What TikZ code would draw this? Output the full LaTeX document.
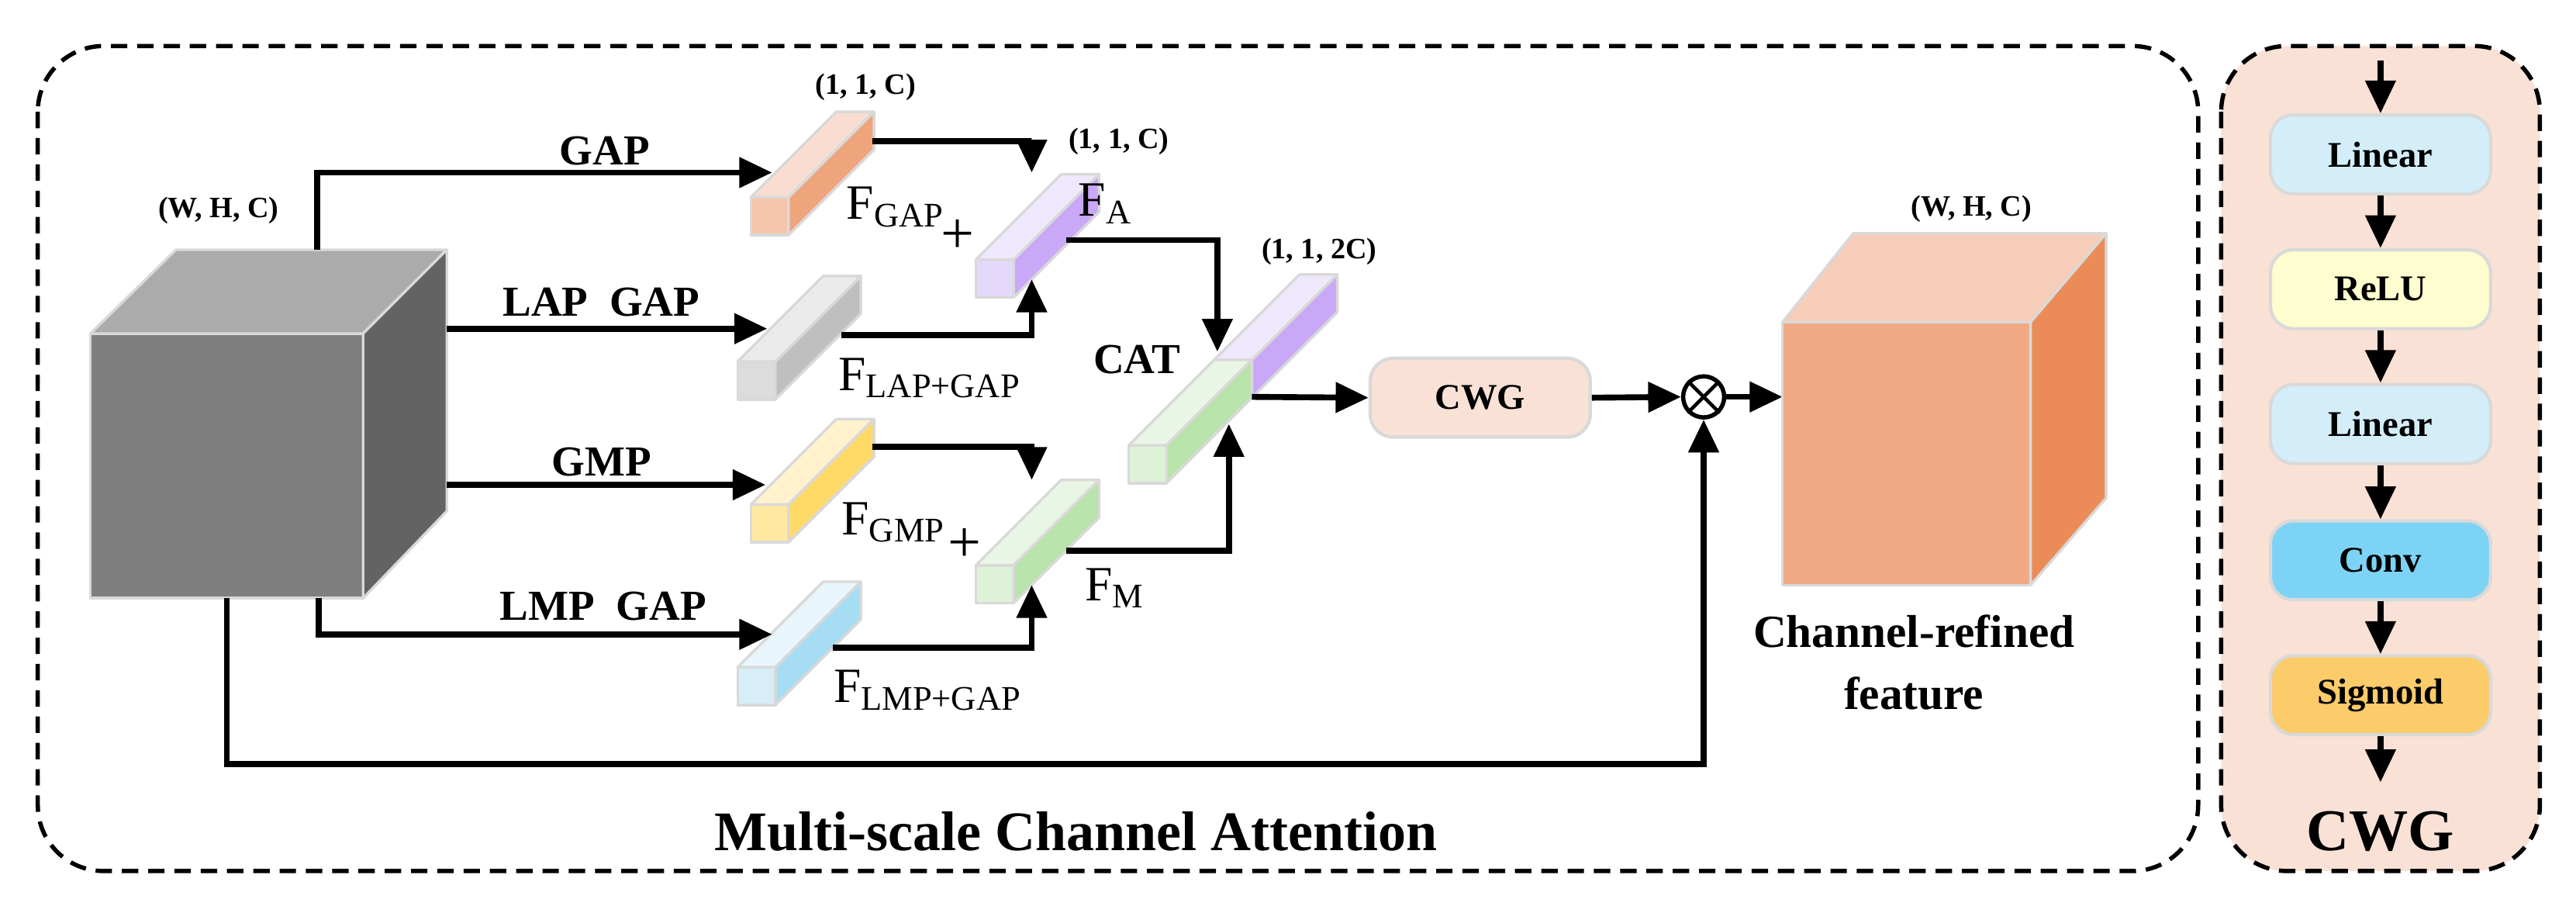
\documentclass[tikz,border=0pt]{standalone}
\usepackage{fontspec}
\setmainfont{Liberation Serif}
\usetikzlibrary{arrows.meta}
\definecolor{edge}{HTML}{D9D9D9}
\definecolor{cwgbg}{HTML}{F9E1D6}
\definecolor{gapF}{HTML}{F5C6AC}\definecolor{gapS}{HTML}{EFA57C}\definecolor{gapT}{HTML}{F8DDD0}
\definecolor{lapF}{HTML}{DCDCDC}\definecolor{lapS}{HTML}{BFBFBF}\definecolor{lapT}{HTML}{EBEBEB}
\definecolor{gmpF}{HTML}{FFE9A0}\definecolor{gmpS}{HTML}{FFD966}\definecolor{gmpT}{HTML}{FFF2CC}
\definecolor{lmpF}{HTML}{D7EEF9}\definecolor{lmpS}{HTML}{A6DDF5}\definecolor{lmpT}{HTML}{E8F6FC}
\definecolor{puF}{HTML}{E5D9FB}\definecolor{puS}{HTML}{C9A8F7}\definecolor{puT}{HTML}{EFE8FC}
\definecolor{grF}{HTML}{DDF2D6}\definecolor{grS}{HTML}{B8E3AA}\definecolor{grT}{HTML}{EAF6E5}
\definecolor{cubeF}{HTML}{7F7F7F}\definecolor{cubeS}{HTML}{636363}\definecolor{cubeT}{HTML}{ABABAB}
\definecolor{ocF}{HTML}{F0A985}\definecolor{ocS}{HTML}{EB8C58}\definecolor{ocT}{HTML}{F6CDB8}
\definecolor{linC}{HTML}{D4EEF9}\definecolor{reluC}{HTML}{FDFDCF}\definecolor{convC}{HTML}{7DD3F5}\definecolor{sigC}{HTML}{FCCB6A}
\tikzset{
 conn/.style={line width=1.8pt,-{Triangle[length=10pt,width=9pt]}},
 plain/.style={line width=1.8pt},
 lbl/.style={font=\bfseries\fontsize{13}{15}\selectfont,inner sep=0},
 dim/.style={font=\bfseries\fontsize{9}{11}\selectfont,inner sep=0},
 flbl/.style={font=\fontsize{15}{17}\selectfont,inner sep=0,anchor=west},
 blk/.style={draw=edge,line width=1pt,rounded corners=7pt,minimum width=67pt,minimum height=24pt,font=\bfseries\fontsize{11}{13}\selectfont},
 face/.style={draw=edge,line width=0.8pt,line join=round}
}
\newcommand\mybar[5]{%
 \filldraw[fill=#3,face] (#1,#2) rectangle (#1+23,#2-23);
 \filldraw[fill=#5,face] (#1,#2-23) -- (#1+23,#2-23) -- (#1+75,#2-75) -- (#1+52,#2-75) -- cycle;
 \filldraw[fill=#4,face] (#1+23,#2) -- (#1+75,#2-52) -- (#1+75,#2-75) -- (#1+23,#2-23) -- cycle;}
\begin{document}
\begin{tikzpicture}[x=0.5pt,y=-0.5pt]
\useasboundingbox (0,0) rectangle (1568,551.3);
% boxes
\draw[line width=1.3pt,dash pattern=on 5pt off 3pt,rounded corners=20pt] (23,28) rectangle (1338,530);
\draw[line width=1.3pt,dash pattern=on 5pt off 3pt,rounded corners=20pt,fill=cwgbg] (1352,28) rectangle (1546,530);
% grey cube
\filldraw[fill=cubeF,face] (55,203) rectangle (221,364);
\filldraw[fill=cubeT,face] (55,203) -- (221,203) -- (272,152) -- (107,152) -- cycle;
\filldraw[fill=cubeS,face] (221,203) -- (272,152) -- (272,311) -- (221,364) -- cycle;
\node[dim] (whc1) at (133,128) {(W, H, C)};
% bars
\mybar{457}{143}{gapF}{gapS}{gapT}
\mybar{449}{243}{lapF}{lapS}{lapT}
\mybar{457}{330}{gmpF}{gmpS}{gmpT}
\mybar{449}{429}{lmpF}{lmpS}{lmpT}
\mybar{594}{181}{puF}{puS}{puT}
\mybar{594}{367}{grF}{grS}{grT}
\mybar{739}{242}{puF}{puS}{puT}
\mybar{687}{294}{grF}{grS}{grT}
% coordinates
\coordinate (c1) at (193,152); \coordinate (gapin) at (470,105);
\coordinate (lapout) at (272,200); \coordinate (lapin) at (467,200);
\coordinate (gmpout) at (272,295); \coordinate (gmpin) at (466,295);
\coordinate (c4) at (194,364); \coordinate (lmpin) at (470,386);
\coordinate (c5) at (138,364);
\coordinate (gapo) at (531,86); \coordinate (fatop) at (628,105);
\coordinate (lapo) at (512,204); \coordinate (fabot) at (628,170);
\coordinate (fao) at (649,146); \coordinate (cattop) at (741,214);
\coordinate (gmpo) at (531,272); \coordinate (fmtop) at (628,292);
\coordinate (lmpo) at (507,394); \coordinate (fmbot) at (628,356);
\coordinate (fmo) at (649,335); \coordinate (catbot) at (748,258);
\coordinate (cato) at (762,241.5);
% arrows
\draw[conn] (c1) |- (gapin);
\draw[conn] (lapout) -- (lapin);
\draw[conn] (gmpout) -- (gmpin);
\draw[conn] (c4) |- (lmpin);
\draw[conn] (gapo) -| (fatop);
\draw[conn] (lapo) -| (fabot);
\draw[conn] (fao) -| (cattop);
\draw[conn] (gmpo) -| (fmtop);
\draw[conn] (lmpo) -| (fmbot);
\draw[conn] (fmo) -| (catbot);
% labels
\node[lbl] (l1) at (368,92) {GAP};
\node[lbl] (l2) at (366,184) {LAP\enspace GAP};
\node[lbl] (l3) at (366,281) {GMP};
\node[lbl] (l4) at (367,369) {LMP\enspace GAP};
\node[dim] (d1) at (527,53) {(1, 1, C)};
\node[dim] (d2) at (681,86) {(1, 1, C)};
\node[dim] (d3) at (803,153) {(1, 1, 2C)};
\node[flbl] (f1) at (515,126) {F\textsubscript{GAP}};
\node[flbl] (f2) at (656,124) {F\textsubscript{A}};
\node[flbl] (f3) at (510,230) {F\textsubscript{LAP+GAP}};
\node[flbl] (f4) at (512,318) {F\textsubscript{GMP}};
\node[flbl] (f5) at (660,358) {F\textsubscript{M}};
\node[flbl] (f6) at (507,420) {F\textsubscript{LMP+GAP}};
\node[font=\fontsize{18}{18}\selectfont,inner sep=0] (p1) at (583,144) {+};
\node[font=\fontsize{18}{18}\selectfont,inner sep=0] (p2) at (587,332) {+};
\node[lbl] (cat) at (692,219) {CAT};
% CWG
\node[blk,fill=cwgbg,minimum width=67pt] (cwg) at (901,242) {CWG};
\node[draw,circle,line width=1.3pt,minimum size=12.5pt,inner sep=0] (ot) at (1037,241.5) {};
\draw[line width=1.1pt] (ot.north west) -- (ot.south east) (ot.north east) -- (ot.south west);
\draw[conn] (cato) -- (cwg.west);
\draw[conn] (cwg.east) -- (ot.west);
\coordinate (oc) at (1085,241.5);
\draw[conn] (ot.east) -- (oc);
\draw[conn] (c5) |- (1037,465) -- (ot.south);
% orange cube
\filldraw[fill=ocF,face] (1085,196) rectangle (1236,356);
\filldraw[fill=ocT,face] (1085,196) -- (1236,196) -- (1282,142) -- (1128,142) -- cycle;
\filldraw[fill=ocS,face] (1236,196) -- (1282,142) -- (1282,303) -- (1236,356) -- cycle;
\node[dim] (whc2) at (1200,127) {(W, H, C)};
\node[lbl,align=center,font=\bfseries\fontsize{14}{19}\selectfont] (crf) at (1165,403) {Channel-refined\\feature};
\node[lbl,font=\bfseries\fontsize{17}{19}\selectfont] (msca) at (655,506) {Multi-scale Channel Attention};
% right panel
\node[blk,fill=linC] (b1) at (1449,94) {Linear};
\node[blk,fill=reluC] (b2) at (1449,176) {ReLU};
\node[blk,fill=linC] (b3) at (1449,258) {Linear};
\node[blk,fill=convC] (b4) at (1449,341) {Conv};
\node[blk,fill=sigC] (b5) at (1449,423) {Sigmoid};
\coordinate (in0) at (1449,37); \coordinate (out0) at (1449,476);
\draw[conn] (in0) -- (b1); \draw[conn] (b1) -- (b2); \draw[conn] (b2) -- (b3);
\draw[conn] (b3) -- (b4); \draw[conn] (b4) -- (b5); \draw[conn] (b5) -- (out0);
\node[lbl,font=\bfseries\fontsize{18}{20}\selectfont] (cwgl) at (1449,506) {CWG};
\end{tikzpicture}
\end{document}
